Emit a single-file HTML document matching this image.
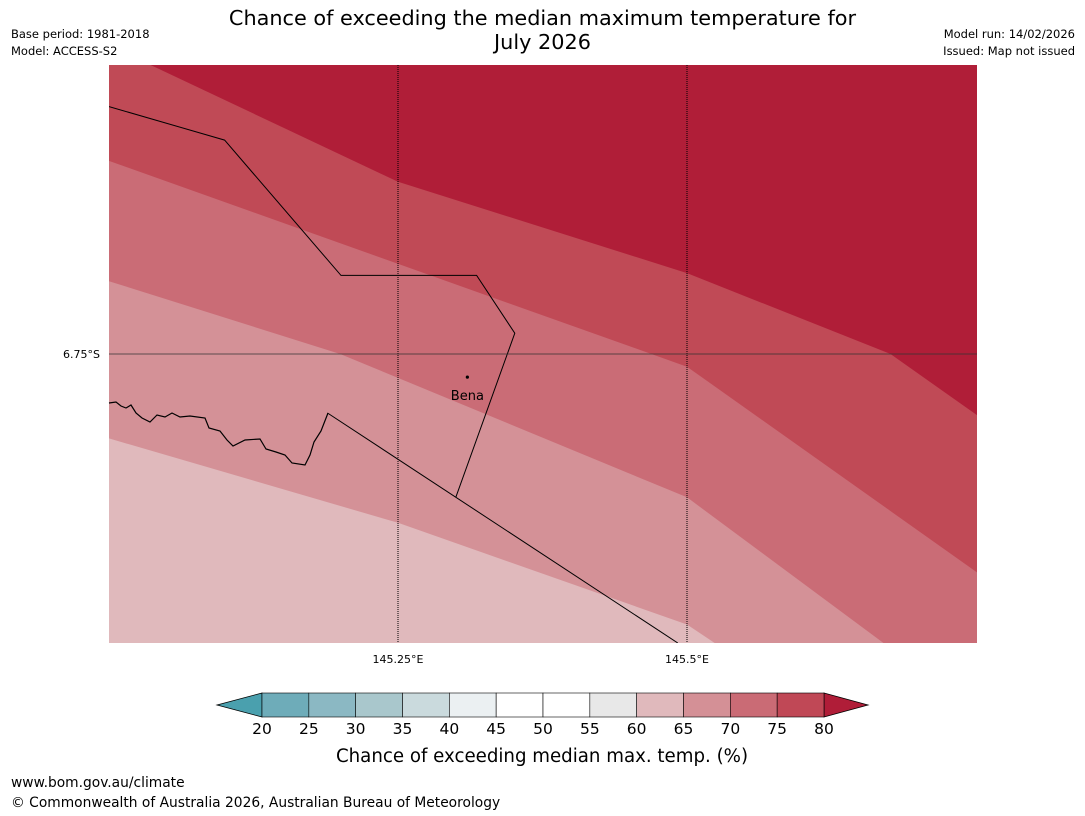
<!DOCTYPE html>
<html><head><meta charset="utf-8">
<style>
body{margin:0;background:#fff;width:1085px;height:816px;overflow:hidden;font-family:"Liberation Sans","DejaVu Sans",sans-serif;}
.t{position:absolute;white-space:nowrap;color:#000;}
</style></head>
<body>
<div class="t" style="left:0;width:1085px;top:6px;text-align:center;font-size:20.8px;line-height:24px;font-family:'DejaVu Sans',sans-serif;">Chance of exceeding the median maximum temperature for<br>July 2026</div>
<div class="t" style="left:11px;top:27px;font-size:11.5px;font-family:'DejaVu Sans',sans-serif;">Base period: 1981-2018</div>
<div class="t" style="left:11px;top:44px;font-size:11.5px;font-family:'DejaVu Sans',sans-serif;">Model: ACCESS-S2</div>
<div class="t" style="right:10px;top:27px;font-size:11.5px;font-family:'DejaVu Sans',sans-serif;">Model run: 14/02/2026</div>
<div class="t" style="right:10px;top:44px;font-size:11.5px;font-family:'DejaVu Sans',sans-serif;">Issued: Map not issued</div>
<svg id="map" width="1085" height="816" style="position:absolute;left:0;top:0" font-family="DejaVu Sans, sans-serif"></svg>
<div class="t" style="left:11px;top:775px;font-size:13.8px;font-family:'DejaVu Sans',sans-serif;">www.bom.gov.au/climate</div>
<div class="t" style="left:11px;top:795px;font-size:13.8px;font-family:'DejaVu Sans',sans-serif;">© Commonwealth of Australia 2026, Australian Bureau of Meteorology</div>
<script>
const levels=[20,25,30,35,40,45,50,55,60,65,70,75,80];
const levelColors=['#6eacb9','#8bb8c3','#a9c7cc','#cadadd','#ebf0f2','#ffffff','#ffffff','#e8e8e8','#e0b9bc','#d49096','#ca6b75','#c04856'];
const underColor='#4aa0ae', overColor='#b01d38';
const bandValues=[80,75,70,65,60];
const bandColors=['#b01e38','#c04a56','#ca6c76','#d49197','#e0b9bc'];
const contour75=[[145.0,-6.50],[145.036,-6.50],[145.25,-6.601],[145.5,-6.680],[145.676,-6.75],[145.751,-6.803]];
const contour70=[[145.0,-6.583],[145.5,-6.761],[145.751,-6.939]];
const contour65=[[145.0,-6.687],[145.2,-6.75],[145.5,-6.874],[145.670,-7.0]];
const contour60=[[145.0,-6.823],[145.25,-6.896],[145.5,-6.984],[145.524,-7.0]];
const border1=[[145.0,-6.536],[145.100,-6.565],[145.2007,-6.682],[145.318,-6.682],[145.351,-6.732],[145.300,-6.874]];
const border2=[[145.189,-6.801],[145.492,-7.0]];
const lonTicks=[145.25,145.5], lonLabels=['145.25°E','145.5°E'];
const latTicks=[-6.75], latLabels=['6.75°S'];
const town=[145.31,-6.77,'Bena'];
const X0=109,X1=977,Y0=65,Y1=643;
const x=lon=>398+(lon-145.25)*1156;
const y=lat=>354+(-6.75-lat)*1156;
const svg=document.getElementById('map');
const NS='http://www.w3.org/2000/svg';
function mk(t,a){const e=document.createElementNS(NS,t);for(const k in a)e.setAttribute(k,a[k]);svg.appendChild(e);return e;}
const pts=a=>a.map(p=>x(p[0]).toFixed(1)+','+y(p[1]).toFixed(1)).join(' ');
let r=mk('rect',{x:X0,y:Y0,width:X1-X0,height:Y1-Y0,fill:bandColors[0]});


const cs=[contour75,contour70,contour65,contour60];
cs.forEach((c,i)=>{
  const p=mk('polygon',{points:pts(c)+` ${X1+40},${Y1+40} ${X0-40},${Y1+40}`,fill:bandColors[i+1],'clip-path':'url(#clip)'});
  
  
});
const defs=document.createElementNS(NS,'defs');defs.innerHTML=`<clipPath id="clip"><rect x="${X0}" y="${Y0}" width="${X1-X0}" height="${Y1-Y0}"/></clipPath>`;svg.insertBefore(defs,svg.firstChild);
let co=mk('path',{d:'M109,403 L116,402 L121,406 L126,408 L131,405 L136,413 L142,418 L150,422 L157,415 L165,417 L172,413 L180,417 L190,416 L205,418 L209,428 L220,431 L227,440 L233,446 L245,440 L260,439 L266,449 L276,452 L285,455 L292,463 L305,465 L310,455 L314,442 L321,431 L328,413',fill:'none',stroke:'#000','stroke-width':1.2});


[border1,border2].forEach((b,i)=>{const l=mk('polyline',{points:pts(b),fill:'none',stroke:'#000','stroke-width':1,'clip-path':'url(#clip)'});

});
lonTicks.forEach((v,i)=>{const l=mk('line',{x1:x(v),x2:x(v),y1:Y0,y2:Y1,stroke:'#000','stroke-dasharray':'1,1','stroke-width':1});


const t=mk('text',{x:x(v),y:Y1+20,'text-anchor':'middle','font-size':11});t.textContent=lonLabels[i];

});
latTicks.forEach((v,i)=>{const l=mk('line',{x1:X0,x2:X1,y1:y(v),y2:y(v),stroke:'#333','stroke-width':0.8});


const t=mk('text',{x:X0-9,y:y(v)+4,'text-anchor':'end','font-size':11});t.textContent=latLabels[i];

});
let d=mk('circle',{cx:x(town[0]),cy:y(town[1]),r:1.6,fill:'#000'});


let tt=mk('text',{x:x(town[0]),y:y(town[1])+23,'text-anchor':'middle','font-size':13});tt.textContent=town[2];


const cbX0=262,cbX1=824,cbY=693,cbH=24;
const cx=v=>cbX0+(v-levels[0])/(levels[levels.length-1]-levels[0])*(cbX1-cbX0);
let u=mk('polygon',{points:`${cbX0},${cbY} 217,${cbY+cbH/2} ${cbX0},${cbY+cbH}`,fill:underColor,stroke:'#000','stroke-width':0.8});


let o=mk('polygon',{points:`${cbX1},${cbY} 868,${cbY+cbH/2} ${cbX1},${cbY+cbH}`,fill:overColor,stroke:'#000','stroke-width':0.8});


levelColors.forEach((c,i)=>{const s=mk('rect',{x:cx(levels[i]),y:cbY,width:cx(levels[i+1])-cx(levels[i]),height:cbH,fill:c,stroke:'#000','stroke-width':0.6});

});
levels.forEach(v=>{const t=mk('text',{x:cx(v),y:cbY+cbH+17,'text-anchor':'middle','font-size':15.5});t.textContent=v;

});
let ct=mk('text',{x:542,y:762,'text-anchor':'middle','font-size':18.2});ct.textContent='Chance of exceeding median max. temp. (%)';


</script>
</body></html>
